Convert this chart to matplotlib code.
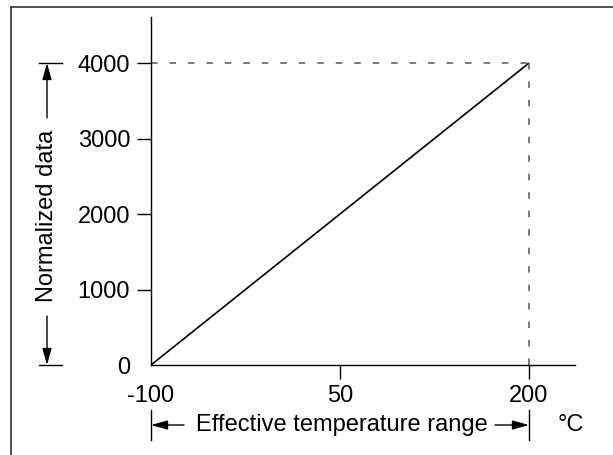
import matplotlib
matplotlib.use("Agg")
import matplotlib.pyplot as plt
from matplotlib.lines import Line2D

plt.rcParams['font.family'] = ['Liberation Sans', 'DejaVu Sans']
plt.rcParams['lines.scale_dashes'] = False

# Data
temp = [-100, 200]
norm = [0, 4000]
xticks = [-100, 50, 200]
xticklabels = ['-100', '50', '200']
yticks = [0, 1000, 2000, 3000, 4000]
yticklabels = ['0', '1000', '2000', '3000', '4000']
xlabel = 'Effective temperature range'
ylabel = 'Normalized data'
unit = '°C'

FS = 17
W, H = 613, 455
fig = plt.figure(figsize=(W / 100, H / 100), dpi=100)

# outer frame (top and left edges)
fig.add_artist(Line2D([11 / W, 11 / W], [0, 1 - 7 / H], color='#333333', lw=1.2,
                      transform=fig.transFigure))
fig.add_artist(Line2D([11 / W, 1], [1 - 7 / H, 1 - 7 / H], color='#333333', lw=1.2,
                      transform=fig.transFigure))

x0, x1 = 151, 575
y0, y1 = 365, 17
ax = fig.add_axes([x0 / W, 1 - y0 / H, (x1 - x0) / W, (y0 - y1) / H])
px_per_x = 189 / 150
px_per_y = 75.5 / 1000
ax.set_xlim(-100, -100 + (x1 - x0) / px_per_x)
ax.set_ylim(0, (y0 - y1) / px_per_y)

for s in ['top', 'right']:
    ax.spines[s].set_visible(False)
for s in ['left', 'bottom']:
    ax.spines[s].set_linewidth(1.0)
    ax.spines[s].set_color('black')

ax.plot(temp, norm, color='black', lw=1.2, solid_capstyle='butt')
ax.plot([temp[0], temp[1]], [norm[1], norm[1]], color='#555555', lw=1.1,
        dashes=(4.7, 8.6), clip_on=False)
ax.plot([temp[1], temp[1]], [norm[0], norm[1]], color='#555555', lw=1.1,
        dashes=(4.7, 8.6), clip_on=False)

ax.set_xticks(xticks)
ax.set_xticklabels(xticklabels)
ax.set_yticks(yticks)
ax.set_yticklabels(yticklabels)
ax.tick_params(axis='both', direction='out', length=10, width=1.0, labelsize=FS,
               colors='black')
ax.tick_params(axis='y', pad=5.0)
ax.tick_params(axis='x', pad=4.5)
ax.xaxis.get_major_ticks()[0].tick1line.set_visible(False)
ax.yaxis.get_major_ticks()[0].tick1line.set_visible(False)

# x label with arrows
yrow = -(425 - y0) / px_per_y
ax.text(51.2, yrow, xlabel, ha='center', va='center', fontsize=FS, clip_on=False)
ax.text(233, yrow, unit, ha='center', va='center', fontsize=FS, clip_on=False)
arrow_kw = dict(arrowstyle='-|>,head_length=1.0,head_width=0.28', color='black', lw=1.0,
                shrinkA=0, shrinkB=0)
ax.annotate('', xy=(-100, yrow), xytext=(-100 + (184 - x0) / px_per_x, yrow),
            arrowprops=arrow_kw, annotation_clip=False)
ax.annotate('', xy=(200, yrow), xytext=(-100 + (495 - x0) / px_per_x, yrow),
            arrowprops=arrow_kw, annotation_clip=False)
for xv in [-100, 200]:
    ax.plot([xv, xv], [-(410 - y0) / px_per_y, -(440 - y0) / px_per_y], color='black',
            lw=1.0, clip_on=False)

# y label with arrows
xcol = -100 + (47 - x0) / px_per_x
ax.text(xcol, 1980, ylabel, ha='center', va='center', rotation=90, fontsize=FS,
        clip_on=False)
ax.annotate('', xy=(xcol, 4000), xytext=(xcol, 3272), arrowprops=arrow_kw,
            annotation_clip=False)
ax.annotate('', xy=(xcol, 0), xytext=(xcol, 649), arrowprops=arrow_kw,
            annotation_clip=False)
bx0 = -100 + (39 - x0) / px_per_x
bx1 = -100 + (62 - x0) / px_per_x
for yv in [0, 4000]:
    ax.plot([bx0, bx1], [yv, yv], color='black', lw=1.0, clip_on=False)

fig.savefig('out.png', dpi=100)
